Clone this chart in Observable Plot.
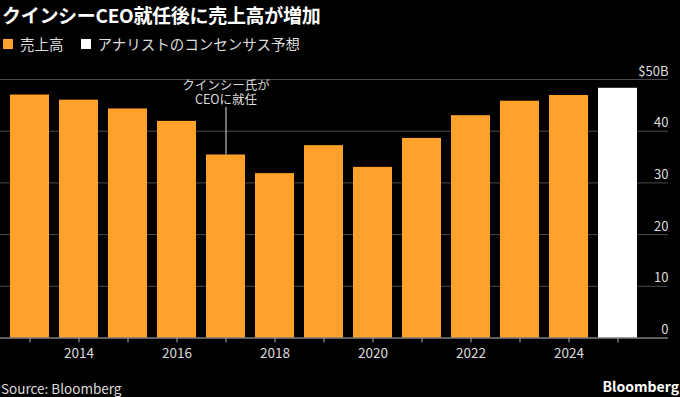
<!DOCTYPE html>
<html>
<head>
<meta charset="utf-8">
<script src="https://cdn.jsdelivr.net/npm/d3@7"></script>
<script src="https://cdn.jsdelivr.net/npm/@observablehq/plot@0.6"></script>
<style>
  html, body { margin: 0; padding: 0; background: #000; }
  body { width: 680px; height: 397px; position: relative; overflow: hidden;
         font-family: "Noto Sans CJK JP", "Noto Sans", sans-serif; color: #ddd; }
  #title { position: absolute; left: 2px; top: 1px; font-size: 19px; font-weight: bold; color: #fff; letter-spacing: -0.3px; }
  #legend { position: absolute; left: 3px; top: 33px; font-size: 14.5px; color: #ddd; display: flex; align-items: center; }
  .sw { display: inline-block; width: 10px; height: 10px; margin-right: 7px; }
  .item { display: flex; align-items: center; margin-right: 17px; }
  #chart { position: absolute; left: 0; top: 56px; }
  #source { position: absolute; left: 1px; top: 378px; font-size: 13.5px; color: #ddd; }
  #brand { position: absolute; right: 1px; top: 376px; font-size: 14px; font-weight: bold; color: #fff; }
</style>
</head>
<body>
<div id="title"></div>
<div id="legend"></div>
<div id="chart"></div>
<div id="source"></div>
<div id="brand"></div>
<script>
const titleText = "クインシーCEO就任後に売上高が増加";
const seriesNames = ["売上高", "アナリストのコンセンサス予想"];
const seriesColors = ["#ffa12b", "#ffffff"];
const years = [2013, 2014, 2015, 2016, 2017, 2018, 2019, 2020, 2021, 2022, 2023, 2024, 2025];
const revenue = [47.0, 46.0, 44.3, 41.9, 35.4, 31.8, 37.2, 33.0, 38.6, 43.0, 45.8, 46.9, 48.3];
const seriesOf = ["売上高", "売上高", "売上高", "売上高", "売上高", "売上高", "売上高", "売上高", "売上高", "売上高", "売上高", "売上高", "アナリストのコンセンサス予想"];
const yTicks = [0, 10, 20, 30, 40, 50];
const yTickLabels = ["0", "10", "20", "30", "40", "$50B"];
const xLabelYears = [2014, 2016, 2018, 2020, 2022, 2024];
const annotationYear = 2017;
const annotationLines = ["クインシー氏が", "CEOに就任"];
const annotationTop = 44.6;
const sourceText = "Source: Bloomberg";
const brandText = "Bloomberg";

document.getElementById("title").textContent = titleText;
document.getElementById("source").textContent = sourceText;
document.getElementById("brand").textContent = brandText;
const legend = document.getElementById("legend");
seriesNames.forEach((n, i) => {
  const it = document.createElement("span");
  it.className = "item";
  const sw = document.createElement("span");
  sw.className = "sw";
  sw.style.background = seriesColors[i];
  it.appendChild(sw);
  it.appendChild(document.createTextNode(n));
  legend.appendChild(it);
});

const data = years.map((y, i) => ({year: y, value: revenue[i], series: seriesOf[i]}));
const tickData = yTicks.map((t, i) => ({t, label: yTickLabels[i]}));
const annRevenue = revenue[years.indexOf(annotationYear)];
const n = annotationLines.length;
const annData = annotationLines.map((line, i) => ({year: annotationYear, line, offset: -(n - 1 - i) * 14.5 - 3}));

const chart = Plot.plot({
  width: 680,
  height: 310,
  marginTop: 23,
  marginBottom: 28.5,
  marginLeft: 0,
  marginRight: 12,
  style: { background: "#000", color: "#ddd", fontFamily: "'Noto Sans CJK JP', sans-serif", fontSize: "13px" },
  x: { type: "band", domain: years, range: [2.3, 644], paddingInner: 0.2, paddingOuter: 0.1, align: 0.5, label: null },
  y: { domain: [0, 50], label: null, axis: null },
  color: { domain: seriesNames, range: seriesColors },
  marks: [
    Plot.ruleY(yTicks.filter(t => t > 0), { stroke: "#4a4a4a", strokeWidth: 1 }),
    Plot.barY(data, { x: "year", y: "value", fill: "series" }),
    Plot.ruleY([0], { stroke: "#bbb", strokeWidth: 1 }),
    Plot.axisX({ ticks: years, tickSize: 5, tickPadding: 5, stroke: "#aaa", fill: "#ddd", fontSize: 13.5,
      tickFormat: d => xLabelYears.includes(d) ? String(d) : "" }),
    Plot.text(tickData, { y: "t", text: "label", frameAnchor: "right", textAnchor: "end", lineAnchor: "bottom", dy: -4, fill: "#ddd", fontSize: 13 }),
    Plot.ruleX([annotationYear], { y1: annRevenue, y2: annotationTop, stroke: "#ddd", strokeWidth: 1 }),
    ...annData.map(d => Plot.text([d], { x: "year", y: () => annotationTop, text: "line", lineAnchor: "bottom", dy: d.offset, fill: "#ddd", fontSize: 12.5 }))
  ]
});
document.getElementById("chart").appendChild(chart);
</script>
</body>
</html>
